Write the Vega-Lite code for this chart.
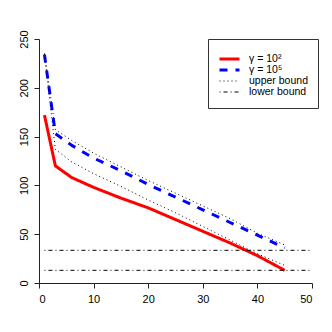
{
  "$schema": "https://vega.github.io/schema/vega-lite/v6.json",
  "width": 273,
  "height": 244,
  "autosize": {"type": "none"},
  "padding": {"left": 39, "top": 39, "right": 20, "bottom": 49},
  "background": "white",
  "config": {
    "view": {"stroke": null},
    "font": "Liberation Sans",
    "axis": {
      "domainColor": "#222",
      "domainWidth": 1,
      "tickColor": "#222",
      "tickWidth": 1,
      "tickSize": 5,
      "labelPadding": 5,
      "labelFont": "Liberation Sans",
      "labelFontSize": 11,
      "labelColor": "black",
      "grid": false,
      "title": null
    },
    "legend": {
      "orient": "none",
      "legendX": 169,
      "legendY": 0,
      "symbolType": "stroke",
      "symbolSize": 400,
      "clipHeight": 10,
      "rowPadding": 0,
      "labelOffset": 8,
      "padding": 10,
      "strokeColor": "#333",
      "fillColor": "white",
      "labelFont": "Liberation Sans",
      "labelFontSize": 10.5,
      "labelColor": "black",
      "titleFontSize": 1,
      "titlePadding": 4
    }
  },
  "data": {
    "values": [
      {"series": "γ = 10²", "line": "r", "x": 1, "y": 172},
      {"series": "γ = 10²", "line": "r", "x": 3, "y": 120},
      {"series": "γ = 10²", "line": "r", "x": 6, "y": 108},
      {"series": "γ = 10²", "line": "r", "x": 10, "y": 98},
      {"series": "γ = 10²", "line": "r", "x": 15, "y": 87},
      {"series": "γ = 10²", "line": "r", "x": 20, "y": 77},
      {"series": "γ = 10²", "line": "r", "x": 25, "y": 65},
      {"series": "γ = 10²", "line": "r", "x": 30, "y": 53},
      {"series": "γ = 10²", "line": "r", "x": 35, "y": 41},
      {"series": "γ = 10²", "line": "r", "x": 40, "y": 28},
      {"series": "γ = 10²", "line": "r", "x": 45, "y": 13},
      {"series": "γ = 10⁵", "line": "b", "x": 1, "y": 234},
      {"series": "γ = 10⁵", "line": "b", "x": 3, "y": 153},
      {"series": "γ = 10⁵", "line": "b", "x": 6, "y": 141},
      {"series": "γ = 10⁵", "line": "b", "x": 10, "y": 128},
      {"series": "γ = 10⁵", "line": "b", "x": 15, "y": 115},
      {"series": "γ = 10⁵", "line": "b", "x": 20, "y": 101},
      {"series": "γ = 10⁵", "line": "b", "x": 25, "y": 88},
      {"series": "γ = 10⁵", "line": "b", "x": 30, "y": 75},
      {"series": "γ = 10⁵", "line": "b", "x": 35, "y": 62},
      {"series": "γ = 10⁵", "line": "b", "x": 40, "y": 49},
      {"series": "γ = 10⁵", "line": "b", "x": 45, "y": 36},
      {"series": "upper bound", "line": "u5", "x": 1, "y": 235},
      {"series": "upper bound", "line": "u5", "x": 3, "y": 157},
      {"series": "upper bound", "line": "u5", "x": 6, "y": 146},
      {"series": "upper bound", "line": "u5", "x": 10, "y": 133},
      {"series": "upper bound", "line": "u5", "x": 15, "y": 119},
      {"series": "upper bound", "line": "u5", "x": 20, "y": 105},
      {"series": "upper bound", "line": "u5", "x": 25, "y": 92},
      {"series": "upper bound", "line": "u5", "x": 30, "y": 79},
      {"series": "upper bound", "line": "u5", "x": 35, "y": 66},
      {"series": "upper bound", "line": "u5", "x": 40, "y": 51},
      {"series": "upper bound", "line": "u5", "x": 45, "y": 39},
      {"series": "upper bound", "line": "u2", "x": 1, "y": 235},
      {"series": "upper bound", "line": "u2", "x": 3, "y": 137},
      {"series": "upper bound", "line": "u2", "x": 6, "y": 124},
      {"series": "upper bound", "line": "u2", "x": 10, "y": 112},
      {"series": "upper bound", "line": "u2", "x": 15, "y": 99},
      {"series": "upper bound", "line": "u2", "x": 20, "y": 85},
      {"series": "upper bound", "line": "u2", "x": 25, "y": 72},
      {"series": "upper bound", "line": "u2", "x": 30, "y": 58},
      {"series": "upper bound", "line": "u2", "x": 35, "y": 44},
      {"series": "upper bound", "line": "u2", "x": 40, "y": 30},
      {"series": "upper bound", "line": "u2", "x": 45, "y": 18},
      {"series": "lower bound", "line": "l5", "x": 1, "y": 33.5},
      {"series": "lower bound", "line": "l5", "x": 50, "y": 33.5},
      {"series": "lower bound", "line": "l2", "x": 1, "y": 13},
      {"series": "lower bound", "line": "l2", "x": 50, "y": 13}
    ]
  },
  "mark": {"type": "line", "strokeCap": "butt", "strokeJoin": "round"},
  "encoding": {
    "x": {
      "field": "x",
      "type": "quantitative",
      "scale": {"domain": [0, 50], "nice": false, "zero": false},
      "axis": {"values": [0, 10, 20, 30, 40, 50]}
    },
    "y": {
      "field": "y",
      "type": "quantitative",
      "scale": {"domain": [0, 250], "nice": false, "zero": false},
      "axis": {"values": [0, 50, 100, 150, 200, 250], "labelAngle": 270, "labelAlign": "center", "labelBaseline": "bottom"}
    },
    "detail": {"field": "line"},
    "color": {
      "field": "series",
      "type": "nominal",
      "sort": ["γ = 10²", "γ = 10⁵", "upper bound", "lower bound"],
      "scale": {"domain": ["γ = 10²", "γ = 10⁵", "upper bound", "lower bound"], "range": ["#FF0000", "#0000FF", "#000000", "#000000"]},
      "legend": {"title": " "}
    },
    "strokeDash": {
      "field": "series",
      "type": "nominal",
      "sort": ["γ = 10²", "γ = 10⁵", "upper bound", "lower bound"],
      "scale": {"domain": ["γ = 10²", "γ = 10⁵", "upper bound", "lower bound"], "range": [[1, 0], [8, 8], [1, 3], [1, 3, 4, 3]]},
      "legend": {"title": " "}
    },
    "strokeWidth": {
      "field": "series",
      "type": "nominal",
      "sort": ["γ = 10²", "γ = 10⁵", "upper bound", "lower bound"],
      "scale": {"type": "ordinal", "domain": ["γ = 10²", "γ = 10⁵", "upper bound", "lower bound"], "range": [3, 3, 1, 1]},
      "legend": {"title": " "}
    }
  }
}
